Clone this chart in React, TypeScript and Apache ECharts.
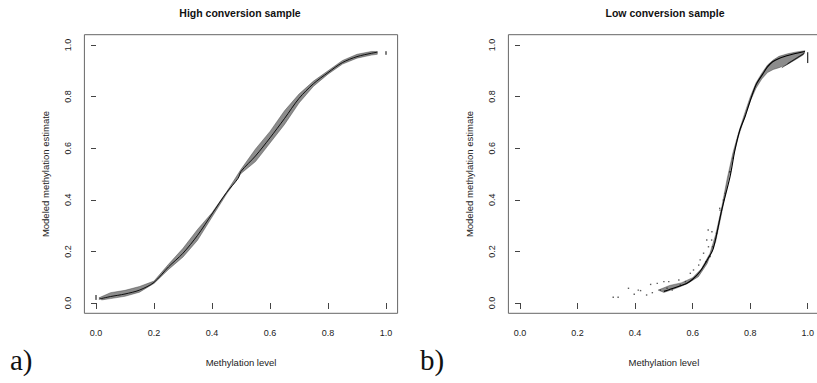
import React, { useEffect, useRef } from "react";
import * as echarts from "echarts";

// ---- Panel a: high conversion sample ----
const centerA: number[][] = [
  [0.01, 0.015], [0.05, 0.025], [0.1, 0.035], [0.15, 0.05], [0.2, 0.08], [0.25, 0.14],
  [0.3, 0.193], [0.35, 0.262], [0.4, 0.345], [0.45, 0.428], [0.49, 0.483], [0.5, 0.51],
  [0.55, 0.57], [0.6, 0.64], [0.65, 0.715], [0.7, 0.793], [0.75, 0.85], [0.8, 0.893],
  [0.85, 0.932], [0.9, 0.955], [0.95, 0.968], [0.97, 0.972],
];
const upperA: number[][] = [
  [0.01, 0.02], [0.05, 0.04], [0.1, 0.049], [0.15, 0.064], [0.2, 0.085], [0.25, 0.15],
  [0.3, 0.212], [0.35, 0.285], [0.4, 0.35], [0.45, 0.43], [0.5, 0.518], [0.55, 0.597],
  [0.6, 0.665], [0.65, 0.745], [0.7, 0.81], [0.75, 0.86], [0.8, 0.9], [0.85, 0.94],
  [0.9, 0.964], [0.95, 0.975], [0.97, 0.975],
];
const lowerA: number[][] = [
  [0.02, 0.012], [0.05, 0.017], [0.1, 0.026], [0.15, 0.042], [0.2, 0.076], [0.25, 0.13],
  [0.3, 0.178], [0.35, 0.243], [0.4, 0.333], [0.45, 0.422], [0.5, 0.502], [0.55, 0.548],
  [0.6, 0.62], [0.65, 0.692], [0.7, 0.775], [0.75, 0.84], [0.8, 0.887], [0.85, 0.926],
  [0.9, 0.949], [0.95, 0.961], [0.97, 0.964],
];
const marksA: number[][][] = [
  [[0, 0.012], [0, 0.031]],
  [[1, 0.962], [1, 0.976]],
];

// ---- Panel b: low conversion sample ----
const centerB: number[][] = [
  [0.5, 0.045], [0.54, 0.06], [0.58, 0.077], [0.6, 0.092], [0.625, 0.121], [0.654, 0.173],
  [0.672, 0.212], [0.701, 0.36], [0.73, 0.49], [0.747, 0.593], [0.764, 0.67], [0.782, 0.722],
  [0.799, 0.78], [0.82, 0.845], [0.844, 0.888], [0.86, 0.915], [0.878, 0.935], [0.9, 0.948],
  [0.924, 0.957], [0.95, 0.965], [0.99, 0.975],
];
const upperB: number[][] = [
  [0.48, 0.05], [0.52, 0.068], [0.56, 0.078], [0.6, 0.098], [0.63, 0.132], [0.66, 0.192],
  [0.68, 0.265], [0.7, 0.365], [0.72, 0.482], [0.74, 0.582], [0.76, 0.662], [0.78, 0.732],
  [0.8, 0.798], [0.82, 0.853], [0.84, 0.89], [0.86, 0.922], [0.88, 0.942], [0.9, 0.956],
  [0.93, 0.966], [0.96, 0.973], [0.99, 0.978],
];
const lowerB: number[][] = [
  [0.5, 0.041], [0.54, 0.056], [0.58, 0.074], [0.62, 0.102], [0.65, 0.152], [0.68, 0.238],
  [0.7, 0.343], [0.72, 0.458], [0.74, 0.563], [0.76, 0.648], [0.78, 0.718], [0.8, 0.782],
  [0.82, 0.832], [0.84, 0.868], [0.86, 0.893], [0.88, 0.905], [0.9, 0.912], [0.93, 0.925],
  [0.96, 0.945], [0.985, 0.962],
];
const fanB: number[][][] = [
  [[0.91, 0.912], [0.985, 0.965]],
  [[0.93, 0.928], [0.99, 0.97]],
];
const dotsB: number[][] = [
  [0.324, 0.022], [0.341, 0.022], [0.377, 0.057], [0.397, 0.034], [0.411, 0.05], [0.419, 0.048],
  [0.44, 0.031], [0.454, 0.072], [0.46, 0.04], [0.477, 0.076], [0.488, 0.05], [0.5, 0.083],
  [0.511, 0.057], [0.517, 0.083], [0.529, 0.05], [0.552, 0.089], [0.557, 0.07], [0.575, 0.083],
  [0.592, 0.115], [0.603, 0.128], [0.621, 0.147], [0.626, 0.167], [0.638, 0.193], [0.646, 0.16],
  [0.655, 0.218], [0.661, 0.18], [0.649, 0.244], [0.667, 0.276], [0.669, 0.218], [0.695, 0.36],
  [0.707, 0.399], [0.713, 0.425], [0.73, 0.509], [0.741, 0.561], [0.654, 0.283], [0.666, 0.244],
  [0.694, 0.367], [0.683, 0.27], [0.729, 0.509],
];
const marksB: number[][][] = [
  [[1, 0.93], [1, 0.972]],
];

const xTicks = [0, 0.2, 0.4, 0.6, 0.8, 1.0];
const titles = ["High conversion sample", "Low conversion sample"];
const panelLabels = ["a)", "b)"];
const xName = "Methylation level";
const yName = "Modeled methylation estimate";

const FONT = "Liberation Sans, Arial, Helvetica, sans-serif";

function bandSeries(idx: number, upper: number[][], lower: number[][]) {
  const pts = [...upper, ...lower.slice().reverse()];
  return {
    type: "custom",
    xAxisIndex: idx,
    yAxisIndex: idx,
    silent: true,
    data: [[0.5, 0.5]],
    renderItem: (_p: any, api: any) => ({
      type: "polygon",
      shape: { points: pts.map((p) => api.coord(p)) },
      style: { fill: "#8c8c8c", stroke: "#333", lineWidth: 0.4 },
    }),
  };
}

function lineSeries(idx: number, data: number[][], width: number, smooth: number | boolean) {
  return {
    type: "line",
    xAxisIndex: idx,
    yAxisIndex: idx,
    data,
    showSymbol: false,
    smooth,
    silent: true,
    lineStyle: { color: "#000", width },
  };
}

export default function App() {
  const ref = useRef<HTMLDivElement>(null);
  useEffect(() => {
    if (!ref.current) return;
    const chart = echarts.init(ref.current, null, { renderer: "svg" });
    const plotLefts = [96, 520];
    const grids = plotLefts.map((l) => ({ left: l, top: 45, width: 290, height: 258 }));
    const xAxes = plotLefts.map((_, i) => ({
      type: "value",
      gridIndex: i,
      min: 0,
      max: 1,
      interval: 0.2,
      offset: 10.3,
      axisLine: { show: false },
      axisTick: { show: true, length: 6, lineStyle: { color: "#444" } },
      splitLine: { show: false },
      axisLabel: {
        margin: 15,
        fontFamily: FONT,
        fontSize: 9,
        color: "#222",
        formatter: (v: number) => v.toFixed(1),
        customValues: xTicks,
      },
      name: xName,
      nameLocation: "middle",
      nameGap: 44,
      nameTextStyle: { fontFamily: FONT, fontSize: 9.5, color: "#222" },
    }));
    const yAxes = plotLefts.map((_, i) => ({
      type: "value",
      gridIndex: i,
      min: 0,
      max: 1,
      interval: 0.2,
      offset: 11.6,
      axisLine: { show: false },
      axisTick: { show: true, length: 5, lineStyle: { color: "#444" } },
      splitLine: { show: false },
      axisLabel: {
        margin: 12,
        rotate: 90,
        fontFamily: FONT,
        fontSize: 9,
        color: "#222",
        formatter: (v: number) => v.toFixed(1),
      },
      name: yName,
      nameLocation: "middle",
      nameGap: 34,
      nameTextStyle: { fontFamily: FONT, fontSize: 9.5, color: "#222" },
    }));

    const series: any[] = [
      bandSeries(0, upperA, lowerA),
      lineSeries(0, centerA, 0.9, 0.3),
      ...marksA.map((m) => lineSeries(0, m, 1, false)),
      bandSeries(1, upperB, lowerB),
      lineSeries(1, centerB, 1.1, 0.3),
      ...fanB.map((m) => lineSeries(1, m, 0.6, false)),
      ...marksB.map((m) => lineSeries(1, m, 1, false)),
      {
        type: "scatter",
        xAxisIndex: 1,
        yAxisIndex: 1,
        data: dotsB,
        symbol: "rect",
        symbolSize: 1.4,
        silent: true,
        itemStyle: { color: "#333" },
      },
    ];

    const boxA = [[84.4, 34.7], [397.6, 34.7], [397.6, 313.3], [84.4, 313.3], [84.4, 34.7]];
    const boxB = [[830, 34.7], [508.4, 34.7], [508.4, 313.3], [830, 313.3]];
    const graphic: any[] = [
      ...[boxA, boxB].map((pts) => ({
        type: "polyline",
        shape: { points: pts },
        style: { fill: "none", stroke: "#666", lineWidth: 1 },
        silent: true,
      })),
      ...[240, 665].map((cx, i) => ({
        type: "text",
        x: cx,
        y: 13,
        style: {
          text: titles[i],
          fontFamily: FONT,
          fontWeight: "bold",
          fontSize: 10.5,
          fill: "#111",
          align: "center",
          verticalAlign: "middle",
        },
      })),
      ...[10, 420].map((lx, i) => ({
        type: "text",
        x: lx,
        y: 360,
        style: {
          text: panelLabels[i],
          fontFamily: "Liberation Serif, DejaVu Serif, serif",
          fontSize: 29,
          fill: "#111",
          align: "left",
          verticalAlign: "middle",
        },
      })),
    ];

    chart.setOption({
      animation: false,
      backgroundColor: "#fff",
      grid: grids,
      xAxis: xAxes,
      yAxis: yAxes,
      series,
      graphic,
    });
    return () => chart.dispose();
  }, []);
  return <div ref={ref} style={{ width: 817, height: 383, position: "absolute", left: 0, top: 0 }} />;
}
